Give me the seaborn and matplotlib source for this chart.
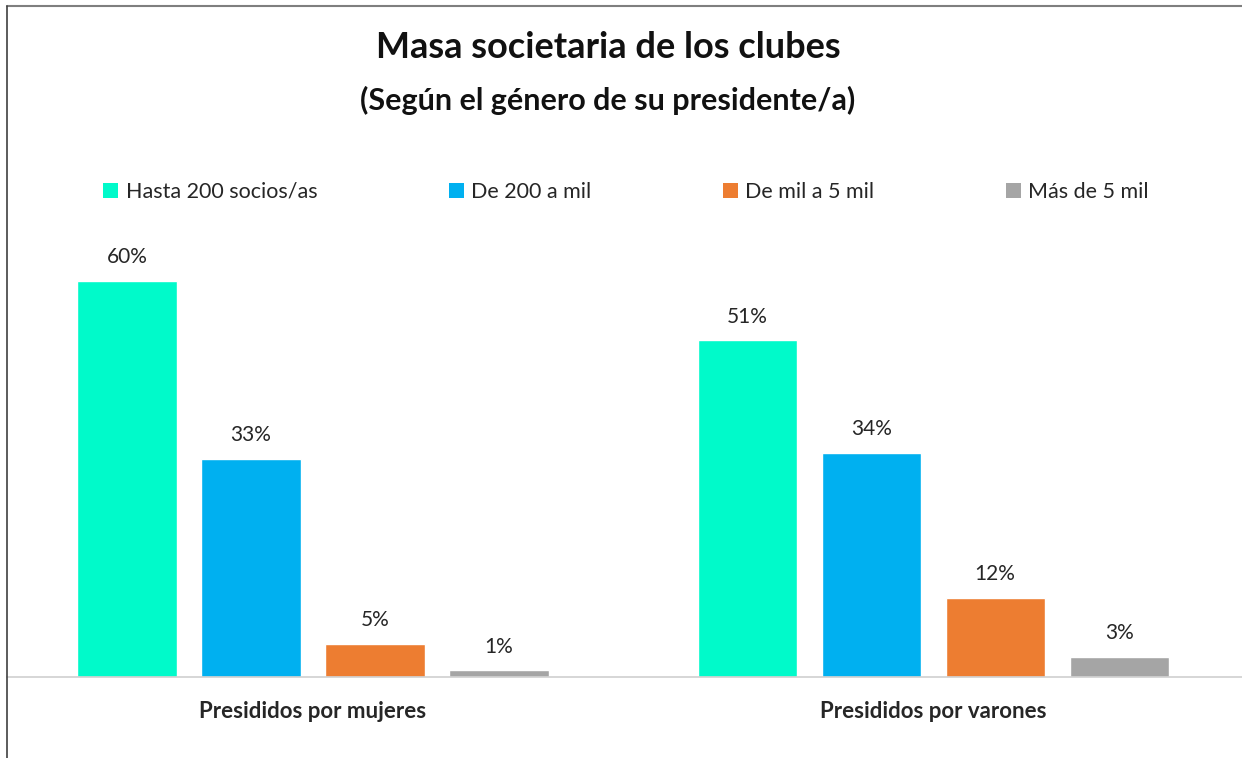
"""
Masa societaria de los clubes, según el género de su presidente/a
"""

import pandas as pd
import matplotlib.pyplot as plt
import seaborn as sns
from matplotlib.lines import Line2D
from matplotlib.patches import Patch

# Data
categorias = ["Presididos por mujeres", "Presididos por varones"]
rangos = ["Hasta 200 socios/as", "De 200 a mil", "De mil a 5 mil", "Más de 5 mil"]
mujeres = [60, 33, 5, 1]
varones = [51, 34, 12, 3]
colores = ["#00FACA", "#00B0F0", "#ED7D31", "#A5A5A5"]

df = pd.DataFrame({
    "categoria": [categorias[0]] * 4 + [categorias[1]] * 4,
    "rango": rangos * 2,
    "valor": mujeres + varones,
})

sns.set_style("white")
plt.rcParams["font.family"] = ["Lato", "DejaVu Sans"]

fig = plt.figure(figsize=(12.42, 7.58), dpi=100)
ax = fig.add_axes([7 / 1242, 81 / 758, 1235 / 1242, 462 / 758])

sns.barplot(data=df, x="categoria", y="valor", hue="rango", order=categorias,
            hue_order=rangos, palette=colores, width=0.8, gap=0.2,
            saturation=1, legend=False, ax=ax)

for cont in ax.containers:
    ax.bar_label(cont, fmt="%.0f%%", padding=10, fontsize=15, color="#262626")

ax.set_xlim(-0.4935, 1.498)
ax.set_ylim(0, 70)
ax.set_yticks([])
ax.set_xlabel("")
ax.set_ylabel("")
ax.tick_params(axis="x", length=0, pad=17)
for lbl in ax.get_xticklabels():
    lbl.set_fontweight("bold")
    lbl.set_fontsize(16)
    lbl.set_color("#262626")
for side in ["top", "right", "left"]:
    ax.spines[side].set_visible(False)
ax.spines["bottom"].set_color("#D0D0D0")
ax.spines["bottom"].set_linewidth(1.2)

# Legend
handles = [Patch(facecolor=c, edgecolor="none") for c in colores]
fig.legend(handles, rangos, loc="lower left", ncol=4, mode="expand",
           bbox_to_anchor=(84 / 1242, 1 - 221 / 758, 1084 / 1242, 0.03),
           frameon=False, fontsize=15.5, handlelength=0.7, handleheight=0.7,
           handletextpad=0.35, labelcolor="#262626")

# Title
fig.text(608 / 1242, 1 - 48 / 758, "Masa societaria de los clubes",
         ha="center", va="center", fontsize=26, fontweight="bold", color="#111111")
fig.text(608 / 1242, 1 - 100 / 758, "(Según el género de su presidente/a)",
         ha="center", va="center", fontsize=22, fontweight="bold", color="#111111")

# Frame
fig.add_artist(Line2D([7 / 1242, 1], [1 - 6 / 758, 1 - 6 / 758],
                      transform=fig.transFigure, color="#7F7F7F", lw=1.5))
fig.add_artist(Line2D([7 / 1242, 7 / 1242], [0, 1 - 6 / 758],
                      transform=fig.transFigure, color="#404040", lw=1.2))

fig.savefig("out.png", dpi=100)
